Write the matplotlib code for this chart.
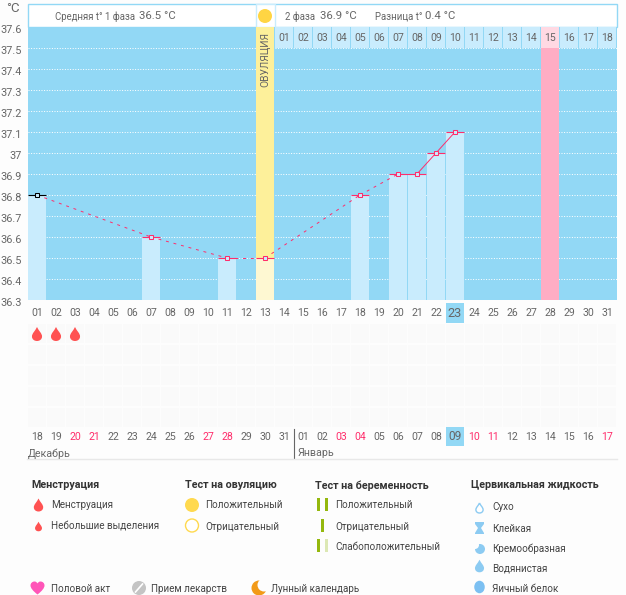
import matplotlib

matplotlib.use("Agg")
from matplotlib import pyplot as plt
from matplotlib.patches import Circle, Ellipse, PathPatch, Rectangle, Wedge
from matplotlib.path import Path
from matplotlib.transforms import ScaledTranslation

plt.rcParams["font.family"] = ["Roboto", "DejaVu Sans"]

W, H = 626, 595

temp_days = [1, 7, 11, 13, 18, 20, 21, 22, 23]
temp_values = [36.8, 36.6, 36.5, 36.5, 36.8, 36.9, 36.9, 37.0, 37.1]
period_days = [1, 2, 3]
y_ticks = [37.6, 37.5, 37.4, 37.3, 37.2, 37.1, 37.0, 36.9, 36.8, 36.7, 36.6, 36.5, 36.4, 36.3]
y_tick_labels = ["37.6", "37.5", "37.4", "37.3", "37.2", "37.1", "37", "36.9", "36.8", "36.7", "36.6", "36.5", "36.4", "36.3"]
cycle_days = list(range(1, 32))
phase2_labels = [f"{i:02d}" for i in range(1, 19)]
date_labels = [18, 19, 20, 21, 22, 23, 24, 25, 26, 27, 28, 29, 30, 31,
               1, 2, 3, 4, 5, 6, 7, 8, 9, 10, 11, 12, 13, 14, 15, 16, 17]
red_columns = [3, 4, 10, 11, 17, 18, 24, 25, 31]
ovulation_day = 13
peak_day = 28
today_day = 23

SKY = "#92D8F5"
BAR = "#C9ECFD"
PINK = "#FFADC4"
PINK_LIGHT = "#FFD9E3"
YELLOW = "#FDF09A"
YELLOW_LIGHT = "#FEF8D2"
LINE = "#FF2D6B"
TEXT = "#666666"
DARK = "#333333"
PAGE = "#FDFDFD"

fig = plt.figure(figsize=(W / 100, H / 100), dpi=100, facecolor=PAGE)

# overlay in pixel coordinates for header, calendar rows and legend
px = fig.add_axes([0, 0, 1, 1], zorder=0)
px.set_xlim(0, W)
px.set_ylim(H, 0)
px.axis("off")

ax = fig.add_axes([27.5 / W, 1 - 300 / H, 589 / W, 273 / H], zorder=1)
ax.set_xlim(0.5, 31.5)
ax.set_ylim(36.3, 37.6)
ax.set_facecolor(SKY)
for spine in ax.spines.values():
    spine.set_visible(False)
ax.set_yticks(y_ticks)
ax.set_yticklabels(y_tick_labels, fontsize=7.8, color=TEXT)
ax.tick_params(axis="y", length=0, pad=4)
shift = ScaledTranslation(0, -1.4 / 72, fig.dpi_scale_trans)
for label in ax.get_yticklabels():
    label.set_transform(label.get_transform() + shift)
ax.set_xticks(cycle_days)
ax.set_xticklabels([f"{d:02d}" for d in cycle_days], fontsize=7.6, color=TEXT)
ax.tick_params(axis="x", length=0, pad=6)
ax.get_xticklabels()[today_day - 1].set_alpha(0)
for value in y_ticks[1:-1]:
    ax.axhline(value, color="white", linewidth=0.72, linestyle=(0, (1, 1.6)), zorder=1)

ax.axvspan(peak_day - 0.48, peak_day + 0.48, color=PINK, linewidth=0, zorder=2)
ax.axvspan(ovulation_day - 0.48, ovulation_day + 0.48, color=YELLOW, linewidth=0, zorder=2)
ax.bar(temp_days, [v - 36.3 for v in temp_values], bottom=36.3, width=0.95,
       color=[YELLOW_LIGHT if d == ovulation_day else BAR for d in temp_days],
       linewidth=0, zorder=3)

# day-number strip over the top of the chart
for i, label in enumerate(phase2_labels):
    day = 14 + i
    cell = PINK_LIGHT if day == peak_day else BAR
    ax.bar(day, 0.1, bottom=37.5, width=0.95, color=cell, linewidth=0, zorder=3)
    ax.text(day, 37.55, label, fontsize=7.6, color=TEXT, ha="center", va="center", zorder=4)
ax.text(ovulation_day, 37.443, "ОВУЛЯЦИЯ", rotation=90, fontsize=7.4, color=TEXT,
        ha="center", va="center", zorder=4)

# dashed across missing days, solid where days are adjacent
for k in range(len(temp_days) - 1):
    adjacent = temp_days[k + 1] - temp_days[k] == 1
    ax.plot(temp_days[k:k + 2], temp_values[k:k + 2], color=LINE, linewidth=0.7,
            linestyle="-" if adjacent else (0, (3, 5)), zorder=5)
for k, (day, value) in enumerate(zip(temp_days, temp_values)):
    edge = "black" if k == 0 else LINE
    ax.plot([day - 0.48, day + 0.48], [value, value], color=edge, linewidth=0.8, zorder=6,
            solid_capstyle="butt")
    ax.plot(day, value, marker="s", markersize=3, markerfacecolor=BAR, markeredgecolor=edge,
            markeredgewidth=0.75, zorder=7)


def x_of(day):
    return 37 + 19 * (day - 1)


# header
px.add_patch(Rectangle((27.5, 3.5), 589, 23.5, facecolor="white", edgecolor=SKY, linewidth=1))
px.add_patch(Rectangle((255.5, 3.5), 19, 23.5, facecolor="white", edgecolor=BAR, linewidth=1))
px.add_patch(Circle((265, 16), 7, facecolor="#FFD543", edgecolor="none"))
px.text(55, 16.5, "Средняя t° 1 фаза", fontsize=6.9, color=TEXT, va="center")
px.text(139, 16, "36.5 °C", fontsize=8.2, color=TEXT, va="center")
px.text(285, 16.5, "2 фаза", fontsize=6.9, color=TEXT, va="center")
px.text(320, 16, "36.9 °C", fontsize=8.2, color=TEXT, va="center")
px.text(375, 16.5, "Разница t°", fontsize=6.9, color=TEXT, va="center")
px.text(425, 16, "0.4 °C", fontsize=8.2, color=TEXT, va="center")
px.text(20, 8, "°C", fontsize=9.5, color=TEXT, ha="right", va="center")

# calendar rows
for day in cycle_days:
    for top in (324, 345, 366, 387, 408):
        px.add_patch(Rectangle((x_of(day) - 9, top), 18, 19, facecolor="#FAFAFA", edgecolor="none"))

drop_path = Path(
    [(0, -1), (0.25, -0.45), (0.72, -0.1), (0.72, 0.35), (0.72, 0.75), (0.4, 1), (0, 1),
     (-0.4, 1), (-0.72, 0.75), (-0.72, 0.35), (-0.72, -0.1), (-0.25, -0.45), (0, -1)],
    [Path.MOVETO, Path.CURVE4, Path.CURVE4, Path.CURVE4, Path.CURVE4, Path.CURVE4, Path.CURVE4,
     Path.CURVE4, Path.CURVE4, Path.CURVE4, Path.CURVE4, Path.CURVE4, Path.CURVE4],
)


def drop(cx, cy, size, face, edge="none", lw=0):
    verts = drop_path.vertices * size + (cx, cy)
    px.add_patch(PathPatch(Path(verts, drop_path.codes), facecolor=face, edgecolor=edge, linewidth=lw))


for day in period_days:
    drop(x_of(day), 334, 7, "#FF5252")

px.add_patch(Rectangle((x_of(today_day) - 9, 303), 18, 20, facecolor=SKY, edgecolor="none"))
px.text(x_of(today_day), 313.5, f"{today_day}", fontsize=9.2, color=TEXT, ha="center", va="center")
px.add_patch(Rectangle((x_of(today_day) - 9, 427), 18, 19, facecolor=SKY, edgecolor="none"))
for i, (day, label) in enumerate(zip(cycle_days, date_labels)):
    colour = "#FF2D6B" if day in red_columns else TEXT
    size = 8.6 if day == today_day else 7.6
    ypos = 436.5 if day == today_day else 437.5
    px.text(x_of(day), ypos, f"{label:02d}", fontsize=size, color=colour, ha="center", va="center")
px.plot([293.5, 293.5], [429, 458], color="#666666", linewidth=0.8)
px.plot([27, 617], [458.5, 458.5], color="#E8E8E8", linewidth=1)
px.text(28, 453.5, "Декабрь", fontsize=7.7, color=TEXT, va="center")
px.text(298, 453.5, "Январь", fontsize=7.7, color=TEXT, va="center")

# legend
for x, title in [(31, "Менструация"), (185, "Тест на овуляцию"), (315, "Тест на беременность"), (471, "Цервикальная жидкость")]:
    px.text(x, 485.5, title, fontsize=7.75, fontweight="bold", color=DARK, va="center")
legend_rows = [
    (51, 505.5, "Менструация"), (51, 526.5, "Небольшие выделения"),
    (205, 505.5, "Положительный"), (205, 526.5, "Отрицательный"),
    (335, 505.5, "Положительный"), (335, 526.5, "Отрицательный"), (335, 546.5, "Слабоположительный"),
    (492, 507.5, "Сухо"), (492, 528.5, "Клейкая"), (492, 548.5, "Кремообразная"),
    (492, 568.5, "Водянистая"), (492, 588.5, "Яичный белок"),
    (51, 588.5, "Половой акт"), (151, 588.5, "Прием лекарств"), (271, 588.5, "Лунный календарь"),
]
for x, y, label in legend_rows:
    px.text(x, y, label, fontsize=7.15, color="#444444", va="center")

drop(38.5, 505, 6.5, "#FF5252")
drop(38.5, 526.5, 4.8, "#FF5252")
px.add_patch(Circle((192, 505), 7, facecolor="#FFD94F", edgecolor="none"))
px.add_patch(Circle((192, 525.5), 6.5, facecolor="white", edgecolor="#FFD94F", linewidth=1))
GREEN = "#94B80E"
for x, y, colour in [(317, 504.5, GREEN), (325, 504.5, GREEN), (320.7, 525.5, GREEN), (317, 545.5, GREEN), (325, 545.5, "#DCE8B4")]:
    px.add_patch(Rectangle((x, y - 6.5), 3.3, 13, facecolor=colour, edgecolor="none"))
BLUE = "#8CCBF2"
drop(479.5, 508, 5, "white", BLUE, 1)
px.add_patch(PathPatch(Path([(475, 522), (484, 522), (484, 524), (481, 528), (484, 533), (484, 534), (475, 534), (475, 533), (478, 528), (475, 524), (475, 522)]), facecolor=BLUE, edgecolor="none"))
px.add_patch(Circle((480, 549), 5, facecolor=BLUE, edgecolor="none"))
px.add_patch(Wedge((475, 545), 4, 270, 90, facecolor=PAGE, edgecolor="none"))
drop(479.5, 566, 6.3, BLUE)
px.add_patch(Ellipse((479.5, 587), 10.5, 12.5, facecolor="#7CC0F2", edgecolor="none"))

# heart, pill, moon
px.add_patch(PathPatch(Path(
    [(37.5, 594.5), (33, 591), (30.5, 588), (30.5, 585.5), (30.5, 583), (32.5, 581.5), (34.5, 581.5),
     (36, 581.5), (37, 582.5), (37.5, 583.5), (38, 582.5), (39, 581.5), (40.5, 581.5),
     (42.5, 581.5), (44.5, 583), (44.5, 585.5), (44.5, 588), (42, 591), (37.5, 594.5)],
    [Path.MOVETO] + [Path.CURVE4] * 18,
), facecolor="#FF55B8", edgecolor="none"))
px.add_patch(Circle((139, 588), 7, facecolor="#C4C4C4", edgecolor="none"))
px.plot([135.5, 142.5], [592, 584], color="white", linewidth=1.2)
px.add_patch(Circle((259, 588), 7.5, facecolor="#F29A17", edgecolor="none"))
px.add_patch(Circle((264, 585), 6.5, facecolor=PAGE, edgecolor="none"))

fig.savefig("out.png", dpi=100, facecolor=fig.get_facecolor())
plt.close(fig)
